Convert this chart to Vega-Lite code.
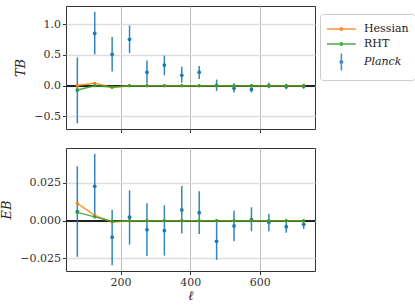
{
  "$schema": "https://vega.github.io/schema/vega-lite/v6.json",
  "padding": {"left": 0, "top": 5, "right": 0, "bottom": 0},
  "spacing": 13,
  "config": {
    "view": {"stroke": "#333333", "strokeWidth": 1},
    "font": "DejaVu Serif",
    "axis": {
      "labelFont": "DejaVu Serif",
      "labelFontSize": 11,
      "labelColor": "#333333",
      "titleFont": "DejaVu Serif",
      "titleFontSize": 13,
      "titleFontStyle": "italic",
      "titleFontWeight": "normal",
      "titleColor": "#222222",
      "domain": false,
      "grid": true,
      "tickColor": "#333333",
      "tickSize": 3.5,
      "gridColor": "#cccccc",
      "gridWidth": 1
    },
    "legend": {
      "labelFont": "DejaVu Serif",
      "labelFontSize": 11,
      "labelColor": "#222222"
    }
  },
  "datasets": {
    "d": [
      {"panel": "TB", "series": "Planck", "l": 76, "v": -0.07, "hi": 0.46, "lo": -0.61},
      {"panel": "TB", "series": "Planck", "l": 126, "v": 0.85, "hi": 1.2, "lo": 0.51},
      {"panel": "TB", "series": "Planck", "l": 176, "v": 0.51, "hi": 0.79, "lo": 0.23},
      {"panel": "TB", "series": "Planck", "l": 226, "v": 0.755, "hi": 0.98, "lo": 0.53},
      {"panel": "TB", "series": "Planck", "l": 276, "v": 0.22, "hi": 0.41, "lo": 0.03},
      {"panel": "TB", "series": "Planck", "l": 326, "v": 0.335, "hi": 0.49, "lo": 0.17},
      {"panel": "TB", "series": "Planck", "l": 376, "v": 0.17, "hi": 0.31, "lo": 0.05},
      {"panel": "TB", "series": "Planck", "l": 426, "v": 0.22, "hi": 0.32, "lo": 0.11},
      {"panel": "TB", "series": "Planck", "l": 476, "v": 0.005, "hi": 0.1, "lo": -0.085},
      {"panel": "TB", "series": "Planck", "l": 526, "v": -0.04, "hi": 0.04, "lo": -0.11},
      {"panel": "TB", "series": "Planck", "l": 576, "v": -0.06, "hi": 0.02, "lo": -0.11},
      {"panel": "TB", "series": "Planck", "l": 626, "v": 0.0, "hi": 0.05, "lo": -0.04},
      {"panel": "TB", "series": "Planck", "l": 676, "v": -0.015, "hi": 0.03, "lo": -0.055},
      {"panel": "TB", "series": "Planck", "l": 726, "v": -0.01, "hi": 0.03, "lo": -0.05},
      {"panel": "TB", "series": "Hessian", "l": 76, "v": 0.005},
      {"panel": "TB", "series": "Hessian", "l": 126, "v": 0.04},
      {"panel": "TB", "series": "Hessian", "l": 176, "v": -0.03},
      {"panel": "TB", "series": "Hessian", "l": 226, "v": 0.0},
      {"panel": "TB", "series": "Hessian", "l": 276, "v": 0.0},
      {"panel": "TB", "series": "Hessian", "l": 326, "v": 0.0},
      {"panel": "TB", "series": "Hessian", "l": 376, "v": 0.0},
      {"panel": "TB", "series": "Hessian", "l": 426, "v": 0.0},
      {"panel": "TB", "series": "Hessian", "l": 476, "v": 0.0},
      {"panel": "TB", "series": "Hessian", "l": 526, "v": 0.0},
      {"panel": "TB", "series": "Hessian", "l": 576, "v": 0.0},
      {"panel": "TB", "series": "Hessian", "l": 626, "v": 0.0},
      {"panel": "TB", "series": "Hessian", "l": 676, "v": 0.0},
      {"panel": "TB", "series": "Hessian", "l": 726, "v": 0.0},
      {"panel": "TB", "series": "RHT", "l": 76, "v": -0.07},
      {"panel": "TB", "series": "RHT", "l": 126, "v": 0.0},
      {"panel": "TB", "series": "RHT", "l": 176, "v": -0.02},
      {"panel": "TB", "series": "RHT", "l": 226, "v": 0.0},
      {"panel": "TB", "series": "RHT", "l": 276, "v": 0.0},
      {"panel": "TB", "series": "RHT", "l": 326, "v": 0.0},
      {"panel": "TB", "series": "RHT", "l": 376, "v": 0.0},
      {"panel": "TB", "series": "RHT", "l": 426, "v": 0.0},
      {"panel": "TB", "series": "RHT", "l": 476, "v": 0.0},
      {"panel": "TB", "series": "RHT", "l": 526, "v": 0.0},
      {"panel": "TB", "series": "RHT", "l": 576, "v": 0.0},
      {"panel": "TB", "series": "RHT", "l": 626, "v": 0.0},
      {"panel": "TB", "series": "RHT", "l": 676, "v": 0.0},
      {"panel": "TB", "series": "RHT", "l": 726, "v": 0.0},
      {"panel": "EB", "series": "Planck", "l": 76, "v": 0.006, "hi": 0.036, "lo": -0.024},
      {"panel": "EB", "series": "Planck", "l": 126, "v": 0.0228, "hi": 0.0444, "lo": 0.0023},
      {"panel": "EB", "series": "Planck", "l": 176, "v": -0.011, "hi": 0.0073, "lo": -0.0296},
      {"panel": "EB", "series": "Planck", "l": 226, "v": 0.0023, "hi": 0.0201, "lo": -0.0159},
      {"panel": "EB", "series": "Planck", "l": 276, "v": -0.006, "hi": 0.0115, "lo": -0.0234},
      {"panel": "EB", "series": "Planck", "l": 326, "v": -0.0066, "hi": 0.0102, "lo": -0.0232},
      {"panel": "EB", "series": "Planck", "l": 376, "v": 0.0071, "hi": 0.023, "lo": -0.0086},
      {"panel": "EB", "series": "Planck", "l": 426, "v": 0.0053, "hi": 0.0195, "lo": -0.0088},
      {"panel": "EB", "series": "Planck", "l": 476, "v": -0.0137, "hi": 0.0009, "lo": -0.026},
      {"panel": "EB", "series": "Planck", "l": 526, "v": -0.0035, "hi": 0.0066, "lo": -0.0137},
      {"panel": "EB", "series": "Planck", "l": 576, "v": 0.0007, "hi": 0.0089, "lo": -0.007},
      {"panel": "EB", "series": "Planck", "l": 626, "v": -0.001, "hi": 0.0046, "lo": -0.007},
      {"panel": "EB", "series": "Planck", "l": 676, "v": -0.004, "hi": 0.0003, "lo": -0.008},
      {"panel": "EB", "series": "Planck", "l": 726, "v": -0.0024, "hi": -0.0004, "lo": -0.0055},
      {"panel": "EB", "series": "Hessian", "l": 76, "v": 0.0115},
      {"panel": "EB", "series": "Hessian", "l": 126, "v": 0.0035},
      {"panel": "EB", "series": "Hessian", "l": 176, "v": -0.0009},
      {"panel": "EB", "series": "Hessian", "l": 226, "v": -0.0003},
      {"panel": "EB", "series": "Hessian", "l": 276, "v": 0.0},
      {"panel": "EB", "series": "Hessian", "l": 326, "v": 0.0},
      {"panel": "EB", "series": "Hessian", "l": 376, "v": 0.0},
      {"panel": "EB", "series": "Hessian", "l": 426, "v": 0.0},
      {"panel": "EB", "series": "Hessian", "l": 476, "v": 0.0},
      {"panel": "EB", "series": "Hessian", "l": 526, "v": 0.0},
      {"panel": "EB", "series": "Hessian", "l": 576, "v": 0.0},
      {"panel": "EB", "series": "Hessian", "l": 626, "v": 0.0},
      {"panel": "EB", "series": "Hessian", "l": 676, "v": 0.0},
      {"panel": "EB", "series": "Hessian", "l": 726, "v": 0.0},
      {"panel": "EB", "series": "RHT", "l": 76, "v": 0.0055},
      {"panel": "EB", "series": "RHT", "l": 126, "v": 0.0025},
      {"panel": "EB", "series": "RHT", "l": 176, "v": -0.0005},
      {"panel": "EB", "series": "RHT", "l": 226, "v": 0.0},
      {"panel": "EB", "series": "RHT", "l": 276, "v": 0.0},
      {"panel": "EB", "series": "RHT", "l": 326, "v": 0.0},
      {"panel": "EB", "series": "RHT", "l": 376, "v": 0.0},
      {"panel": "EB", "series": "RHT", "l": 426, "v": 0.0},
      {"panel": "EB", "series": "RHT", "l": 476, "v": 0.0},
      {"panel": "EB", "series": "RHT", "l": 526, "v": 0.0},
      {"panel": "EB", "series": "RHT", "l": 576, "v": 0.0},
      {"panel": "EB", "series": "RHT", "l": 626, "v": 0.0},
      {"panel": "EB", "series": "RHT", "l": 676, "v": 0.0},
      {"panel": "EB", "series": "RHT", "l": 726, "v": 0.0}
    ]
  },
  "vconcat": [
    {
      "width": 249,
      "height": 123,
      "data": {"name": "d"},
      "transform": [{"filter": "datum.panel === 'TB'"}],
      "layer": [
        {
          "mark": {"type": "rule", "color": "#222222", "strokeWidth": 1.5},
          "encoding": {"y": {"datum": 0, "type": "quantitative", "scale": {"domain": [-0.704, 1.296], "nice": false, "zero": false},
            "axis": {"values": [-0.5, 0, 0.5, 1.0], "format": ".1f", "title": "TB", "titlePadding": 6, "grid": true, "gridColor": "#dddddd", "gridWidth": 1.5}}}
        },
        {
          "transform": [{"filter": "datum.series === 'Planck'"}],
          "mark": {"type": "rule", "color": "#1f77b4", "strokeWidth": 1.5, "opacity": 0.9},
          "encoding": {
            "x": {"field": "l", "type": "quantitative", "scale": {"domain": [43.5, 758.5], "nice": false, "zero": false},
              "axis": {"values": [200, 400, 600], "labels": false, "title": null, "grid": true, "gridColor": "#bbbbbb"}},
            "y": {"field": "lo", "type": "quantitative"}, "y2": {"field": "hi"}}
        },
        {
          "transform": [{"filter": "datum.series === 'Planck'"}],
          "mark": {"type": "point", "filled": true, "shape": "circle", "size": 14, "color": "#1f77b4", "opacity": 1},
          "encoding": {"x": {"field": "l", "type": "quantitative"}, "y": {"field": "v", "type": "quantitative"}}
        },
        {
          "transform": [{"filter": "datum.series !== 'Planck'"}],
          "mark": {"type": "line", "strokeWidth": 1.5, "opacity": 0.85, "point": {"filled": true, "size": 10, "opacity": 1}},
          "encoding": {
            "x": {"field": "l", "type": "quantitative"},
            "y": {"field": "v", "type": "quantitative"},
            "color": {"field": "series", "type": "nominal"}
          }
        },
        {
          "transform": [{"filter": "datum.l === 76"}],
          "mark": {"type": "point", "filled": false, "opacity": 0, "strokeWidth": 1.5},
          "encoding": {
            "x": {"field": "l", "type": "quantitative"},
            "y": {"field": "v", "type": "quantitative"},
            "color": {"field": "series", "type": "nominal",
              "scale": {"domain": ["Hessian", "RHT", "Planck"], "range": ["#ff7f0e", "#2ca02c", "#1f77b4"]},
              "legend": {"title": null, "orient": "none", "legendX": 254, "legendY": 8,
                "symbolOpacity": 0.85, "symbolStrokeWidth": 1.5, "symbolSize": 256,
                "padding": 6, "strokeColor": "#cccccc", "fillColor": "white", "cornerRadius": 3,
                "rowPadding": 1, "labelOffset": 20,
                "labelFont": "DejaVu Serif", "labelFontSize": 11,
                "labelFontStyle": {"expr": "datum.label === 'Planck' ? 'italic' : 'normal'"}}},
            "shape": {"field": "series", "type": "nominal",
              "scale": {"domain": ["Hessian", "RHT", "Planck"],
                "range": ["M-1,0H2.6M0.64,0A0.16,0.16 0 1,0 0.96,0A0.16,0.16 0 1,0 0.64,0",
                          "M-1,0H2.6M0.64,0A0.16,0.16 0 1,0 0.96,0A0.16,0.16 0 1,0 0.64,0",
                          "M0.8,-1.06V1.06M0.64,0A0.16,0.16 0 1,0 0.96,0A0.16,0.16 0 1,0 0.64,0"]}}
          }
        }
      ]
    },
    {
      "width": 249,
      "height": 123,
      "data": {"name": "d"},
      "transform": [{"filter": "datum.panel === 'EB'"}],
      "layer": [
        {
          "mark": {"type": "rule", "color": "#222222", "strokeWidth": 1.5},
          "encoding": {"y": {"datum": 0, "type": "quantitative", "scale": {"domain": [-0.0334, 0.0482], "nice": false, "zero": false},
            "axis": {"values": [-0.025, 0, 0.025], "format": ".3f", "title": "EB", "titlePadding": 6, "grid": true, "gridColor": "#dddddd", "gridWidth": 1.5}}}
        },
        {
          "transform": [{"filter": "datum.series === 'Planck'"}],
          "mark": {"type": "rule", "color": "#1f77b4", "strokeWidth": 1.5, "opacity": 0.9},
          "encoding": {
            "x": {"field": "l", "type": "quantitative", "scale": {"domain": [43.5, 758.5], "nice": false, "zero": false},
              "axis": {"values": [200, 400, 600], "title": "ℓ", "titlePadding": 2, "grid": true, "gridColor": "#bbbbbb"}},
            "y": {"field": "lo", "type": "quantitative"}, "y2": {"field": "hi"}}
        },
        {
          "transform": [{"filter": "datum.series === 'Planck'"}],
          "mark": {"type": "point", "filled": true, "shape": "circle", "size": 14, "color": "#1f77b4", "opacity": 1},
          "encoding": {"x": {"field": "l", "type": "quantitative"}, "y": {"field": "v", "type": "quantitative"}}
        },
        {
          "transform": [{"filter": "datum.series !== 'Planck'"}],
          "mark": {"type": "line", "strokeWidth": 1.5, "opacity": 0.85, "point": {"filled": true, "size": 10, "opacity": 1}},
          "encoding": {
            "x": {"field": "l", "type": "quantitative"},
            "y": {"field": "v", "type": "quantitative"},
            "color": {"field": "series", "type": "nominal"}
          }
        }
      ]
    }
  ]
}
